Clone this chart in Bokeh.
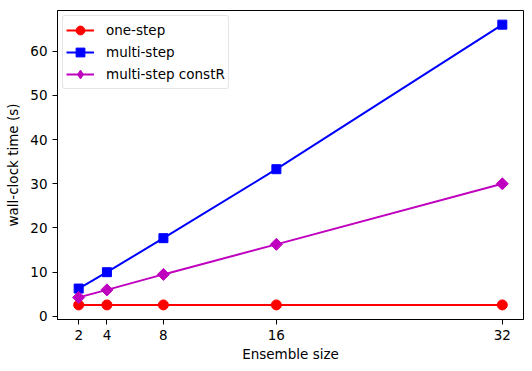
import math
from bokeh.plotting import figure
from bokeh.models import Range1d, FixedTicker, Legend, LegendItem
from bokeh.embed import file_html
from bokeh.resources import INLINE

ensemble = [2, 4, 8, 16, 32]
one_step = [2.6, 2.6, 2.6, 2.6, 2.6]
multi_step = [6.3, 10.0, 17.7, 33.3, 66.0]
multi_constR = [4.3, 6.0, 9.5, 16.3, 30.0]
x_ticks = [2, 4, 8, 16, 32]
y_ticks = [0, 10, 20, 30, 40, 50, 60]

FONT = "DejaVu Sans"

p = figure(width=532, height=371, output_backend="svg", toolbar_location=None,
           x_range=Range1d(0.5, 33.5), y_range=Range1d(-0.7, 69.2),
           min_border_left=57, min_border_top=10, min_border_right=9, min_border_bottom=52)
p.xgrid.visible = False
p.ygrid.visible = False
p.outline_line_color = "black"
p.outline_line_width = 1

for ax in (p.xaxis[0], p.yaxis[0]):
    ax.major_tick_in = 0
    ax.major_tick_out = 5
    ax.minor_tick_line_color = None
    ax.axis_line_color = "black"
    ax.major_label_text_font = FONT
    ax.major_label_text_font_size = "13.5px"
    ax.major_label_text_color = "black"
    ax.axis_label_text_font = FONT
    ax.axis_label_text_font_size = "13.5px"
    ax.axis_label_text_font_style = "normal"
    ax.axis_label_text_color = "black"

p.xaxis.ticker = FixedTicker(ticks=x_ticks)
p.yaxis.ticker = FixedTicker(ticks=y_ticks)
p.xaxis.axis_label = "Ensemble size"
p.yaxis.axis_label = "wall-clock time (s)"
p.xaxis.axis_label_standoff = 3
p.yaxis.axis_label_standoff = 6

series = [
    ("one-step", one_step, "#ff0000", "circle", 10, 0.0, "circle"),
    ("multi-step", multi_step, "#0000ff", "square", 9, 0.0, "square"),
    ("multi-step constR", multi_constR, "#bf00bf", "square", 8.5, math.pi / 4, "diamond"),
]
items = []
for name, ys, col, marker, sz, ang, leg_marker in series:
    lr = p.line(ensemble, ys, color=col, line_width=2)
    if leg_marker == marker:
        sr = p.scatter(ensemble, ys, marker=marker, size=sz, angle=ang, color=col)
        items.append(LegendItem(label=name, renderers=[lr, sr]))
    else:
        # legend glyph (hidden beneath the rotated squares in the plot)
        lg_r = p.scatter(ensemble, ys, marker=leg_marker, size=10, color=col)
        p.scatter(ensemble, ys, marker=marker, size=sz, angle=ang, color=col)
        items.append(LegendItem(label=name, renderers=[lr, lg_r]))

lg = Legend(items=items, location="top_left")
lg.margin = 5
lg.padding = 3
lg.spacing = -1
lg.label_text_font = FONT
lg.label_text_font_size = "13.5px"
lg.label_text_color = "black"
lg.label_height = 22
lg.glyph_width = 28
lg.glyph_height = 22
lg.label_standoff = 12
lg.border_line_color = "#cccccc"
lg.border_line_width = 1
lg.border_radius = 3
lg.background_fill_alpha = 0.8
p.add_layout(lg, "center")

open("out.html", "w").write(file_html(p, INLINE))
